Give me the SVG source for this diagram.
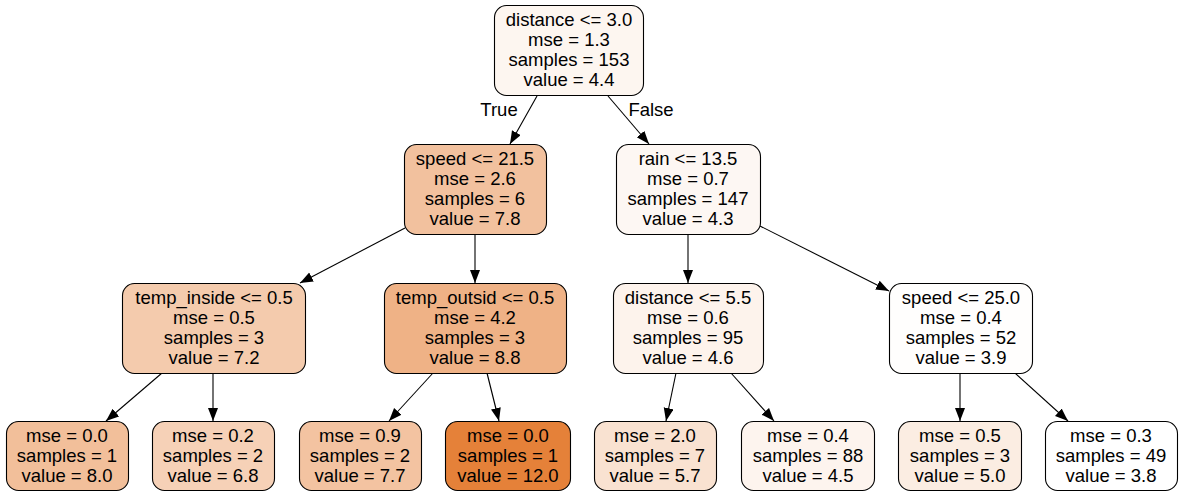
<svg xmlns="http://www.w3.org/2000/svg" width="1184" height="497" viewBox="0 0 1184 497">
<style>
.n rect{stroke:#000;stroke-width:1.1}
text{font-family:"Liberation Sans",Arial,sans-serif;font-size:18.5px;fill:#000;text-anchor:middle}
.e line{stroke:#000;stroke-width:1.1}
</style>
<defs>
<marker id="a" markerUnits="userSpaceOnUse" markerWidth="14" markerHeight="11" refX="13" refY="5" orient="auto">
<path d="M0,0 L13,5 L0,10 z" fill="#000"/>
</marker>
</defs>
<rect width="1184" height="497" fill="#fff"/>
<g class="e" id="edges">
<line x1="537" y1="96" x2="510" y2="144" marker-end="url(#a)"/>
<line x1="608" y1="96" x2="649" y2="144" marker-end="url(#a)"/>
<line x1="405" y1="228" x2="300" y2="283" marker-end="url(#a)"/>
<line x1="475" y1="235" x2="475" y2="283" marker-end="url(#a)"/>
<line x1="688" y1="235" x2="688" y2="283" marker-end="url(#a)"/>
<line x1="760" y1="226" x2="889" y2="291" marker-end="url(#a)"/>
<line x1="162" y1="373" x2="106" y2="421" marker-end="url(#a)"/>
<line x1="213" y1="373" x2="213" y2="421" marker-end="url(#a)"/>
<line x1="433" y1="373" x2="389" y2="421" marker-end="url(#a)"/>
<line x1="487" y1="373" x2="499" y2="421" marker-end="url(#a)"/>
<line x1="676" y1="373" x2="666" y2="421" marker-end="url(#a)"/>
<line x1="731" y1="373" x2="774" y2="421" marker-end="url(#a)"/>
<line x1="960" y1="373" x2="960" y2="421" marker-end="url(#a)"/>
<line x1="1015" y1="373" x2="1068" y2="421" marker-end="url(#a)"/>
<text x="499" y="116">True</text>
<text x="651" y="116">False</text>
</g>
<g class="n" id="n0"><rect x="494.5" y="5.5" width="149" height="90" rx="12" fill="#fdf6f0"/>
<text x="569" y="26">distance &lt;= 3.0</text><text x="569" y="46">mse = 1.3</text><text x="569" y="66">samples = 153</text><text x="569" y="86">value = 4.4</text></g>
<g class="n" id="n1"><rect x="404.5" y="144.5" width="142" height="90" rx="12" fill="#f2c19e"/>
<text x="475" y="165">speed &lt;= 21.5</text><text x="475" y="185">mse = 2.6</text><text x="475" y="205">samples = 6</text><text x="475" y="225">value = 7.8</text></g>
<g class="n" id="n2"><rect x="616.5" y="144.5" width="144" height="90" rx="12" fill="#fdf7f3"/>
<text x="688" y="165">rain &lt;= 13.5</text><text x="688" y="185">mse = 0.7</text><text x="688" y="205">samples = 147</text><text x="688" y="225">value = 4.3</text></g>
<g class="n" id="n3"><rect x="122.5" y="283.5" width="183" height="90" rx="12" fill="#f4cbad"/>
<text x="214" y="304">temp_inside &lt;= 0.5</text><text x="214" y="324">mse = 0.5</text><text x="214" y="344">samples = 3</text><text x="214" y="364">value = 7.2</text></g>
<g class="n" id="n4"><rect x="384.5" y="283.5" width="182" height="90" rx="12" fill="#efb286"/>
<text x="475" y="304">temp_outsid &lt;= 0.5</text><text x="475" y="324">mse = 4.2</text><text x="475" y="344">samples = 3</text><text x="475" y="364">value = 8.8</text></g>
<g class="n" id="n5"><rect x="613.5" y="283.5" width="150" height="90" rx="12" fill="#fdf3ec"/>
<text x="688" y="304">distance &lt;= 5.5</text><text x="688" y="324">mse = 0.6</text><text x="688" y="344">samples = 95</text><text x="688" y="364">value = 4.6</text></g>
<g class="n" id="n6"><rect x="889.5" y="283.5" width="143" height="90" rx="12" fill="#fffefd"/>
<text x="961" y="304">speed &lt;= 25.0</text><text x="961" y="324">mse = 0.4</text><text x="961" y="344">samples = 52</text><text x="961" y="364">value = 3.9</text></g>
<g class="n" id="n7"><rect x="6.5" y="421.5" width="122" height="69" rx="12" fill="#f2bf9a"/>
<text x="67" y="442">mse = 0.0</text><text x="67" y="462">samples = 1</text><text x="67" y="482">value = 8.0</text></g>
<g class="n" id="n8"><rect x="152.5" y="421.5" width="122" height="69" rx="12" fill="#f6d1b7"/>
<text x="213" y="442">mse = 0.2</text><text x="213" y="462">samples = 2</text><text x="213" y="482">value = 6.8</text></g>
<g class="n" id="n9"><rect x="299.5" y="421.5" width="122" height="69" rx="12" fill="#f3c3a1"/>
<text x="360" y="442">mse = 0.9</text><text x="360" y="462">samples = 2</text><text x="360" y="482">value = 7.7</text></g>
<g class="n" id="n10"><rect x="445.5" y="421.5" width="125" height="69" rx="12" fill="#e58139"/>
<text x="508" y="442">mse = 0.0</text><text x="508" y="462">samples = 1</text><text x="508" y="482">value = 12.0</text></g>
<g class="n" id="n11"><rect x="594.5" y="421.5" width="122" height="69" rx="12" fill="#f9e2d1"/>
<text x="655" y="442">mse = 2.0</text><text x="655" y="462">samples = 7</text><text x="655" y="482">value = 5.7</text></g>
<g class="n" id="n12"><rect x="741.5" y="421.5" width="133" height="69" rx="12" fill="#fdf4ee"/>
<text x="808" y="442">mse = 0.4</text><text x="808" y="462">samples = 88</text><text x="808" y="482">value = 4.5</text></g>
<g class="n" id="n13"><rect x="898.5" y="421.5" width="123" height="69" rx="12" fill="#fbede2"/>
<text x="960" y="442">mse = 0.5</text><text x="960" y="462">samples = 3</text><text x="960" y="482">value = 5.0</text></g>
<g class="n" id="n14"><rect x="1045.5" y="421.5" width="132" height="69" rx="12" fill="#ffffff"/>
<text x="1111" y="442">mse = 0.3</text><text x="1111" y="462">samples = 49</text><text x="1111" y="482">value = 3.8</text></g>
</svg>
